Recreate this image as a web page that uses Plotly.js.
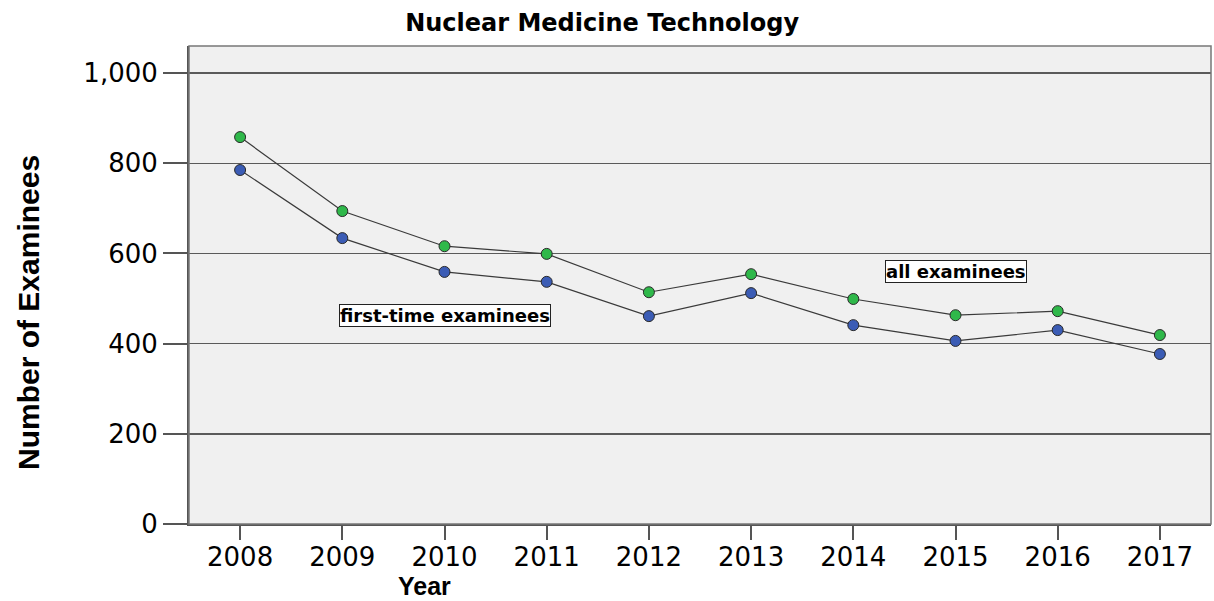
<!DOCTYPE html>
<html>
<head>
<meta charset="utf-8">
<script src="https://cdn.plot.ly/plotly-3.0.1.min.js"></script>
<style>html,body{margin:0;padding:0;background:#fff;}</style>
</head>
<body>
<div id="chart" style="width:1214px;height:601px;"></div>
<script>
const years = [2008, 2009, 2010, 2011, 2012, 2013, 2014, 2015, 2016, 2017];
const allExaminees = [858, 694, 616, 599, 514, 554, 499, 463, 472, 419];
const firstTimeExaminees = [785, 634, 559, 537, 461, 512, 441, 406, 430, 377];
const yTicks = [0, 200, 400, 600, 800, 1000];
const yTickLabels = ['0', '200', '400', '600', '800', '1,000'];

const lineStyle = {color: '#3a3a3a', width: 1.2};
const traces = [
  {
    x: years, y: allExaminees, mode: 'lines+markers', name: 'all examinees',
    line: lineStyle,
    marker: {color: '#2fb84a', size: 11, line: {color: '#2a2a2a', width: 1}}
  },
  {
    x: years, y: firstTimeExaminees, mode: 'lines+markers', name: 'first-time examinees',
    line: lineStyle,
    marker: {color: '#3b5cb5', size: 11, line: {color: '#2a2a2a', width: 1}}
  }
];

const plotL = 189, plotR = 1211, plotT = 46, plotB = 524;
const px = v => (v - plotL) / (plotR - plotL);
const py = v => (plotB - v) / (plotB - plotT);

const layout = {
  width: 1214, height: 601,
  margin: {l: 189, r: 3, t: 46, b: 77},
  paper_bgcolor: '#ffffff',
  plot_bgcolor: '#f0f0f0',
  showlegend: false,
  title: {
    text: '<b>Nuclear Medicine Technology</b>',
    font: {family: 'DejaVu Sans, sans-serif', size: 24, color: '#000'},
    x: 0.496, xanchor: 'center', y: 0.963, yanchor: 'middle'
  },
  xaxis: {
    range: [2007.5, 2017.5],
    tickvals: years, ticktext: years.map(String),
    ticks: 'outside', ticklen: 14, tickwidth: 2, tickcolor: '#555',
    ticklabelstandoff: -5,
    showgrid: false, zeroline: false,
    showline: true, linecolor: '#555', linewidth: 2, mirror: false,
    tickfont: {family: 'DejaVu Sans, sans-serif', size: 26, color: '#000'},
    fixedrange: true
  },
  yaxis: {
    range: [0, 1060],
    tickvals: yTicks, ticktext: yTickLabels,
    ticks: 'outside', ticklen: 24, tickwidth: 2, tickcolor: '#555',
    showgrid: true, gridcolor: '#5a5a5a', gridwidth: 1.5,
    zeroline: false,
    showline: true, linecolor: '#555', linewidth: 2,
    tickfont: {family: 'DejaVu Sans, sans-serif', size: 26, color: '#000'},
    fixedrange: true
  },
  shapes: [
    {type: 'rect', xref: 'paper', yref: 'paper', x0: 0, x1: 1, y0: 0, y1: 1, line: {color: '#777', width: 1.5}}
  ],
  annotations: [
    {
      x: 2010.0, y: 463, xref: 'x', yref: 'y', text: '<b>first-time examinees</b>', showarrow: false,
      font: {family: 'DejaVu Sans, sans-serif', size: 18, color: '#000'},
      bgcolor: '#ffffff', bordercolor: '#222', borderwidth: 1, borderpad: 0
    },
    {
      x: 2015.0, y: 559, xref: 'x', yref: 'y', text: '<b>all examinees</b>', showarrow: false,
      font: {family: 'DejaVu Sans, sans-serif', size: 18, color: '#000'},
      bgcolor: '#ffffff', bordercolor: '#222', borderwidth: 1, borderpad: 0
    },
    {
      x: px(28), y: py(313), xref: 'paper', yref: 'paper', xanchor: 'center', yanchor: 'middle',
      text: '<b>Number of Examinees</b>', textangle: -90, showarrow: false,
      font: {family: 'Liberation Sans, Arial, sans-serif', size: 30, color: '#000'}
    },
    {
      x: px(424), y: py(586), xref: 'paper', yref: 'paper', xanchor: 'center', yanchor: 'middle',
      text: '<b>Year</b>', showarrow: false,
      font: {family: 'Liberation Sans, Arial, sans-serif', size: 25, color: '#000'}
    }
  ]
};

Plotly.newPlot('chart', traces, layout, {displayModeBar: false, staticPlot: true});
</script>
</body>
</html>
